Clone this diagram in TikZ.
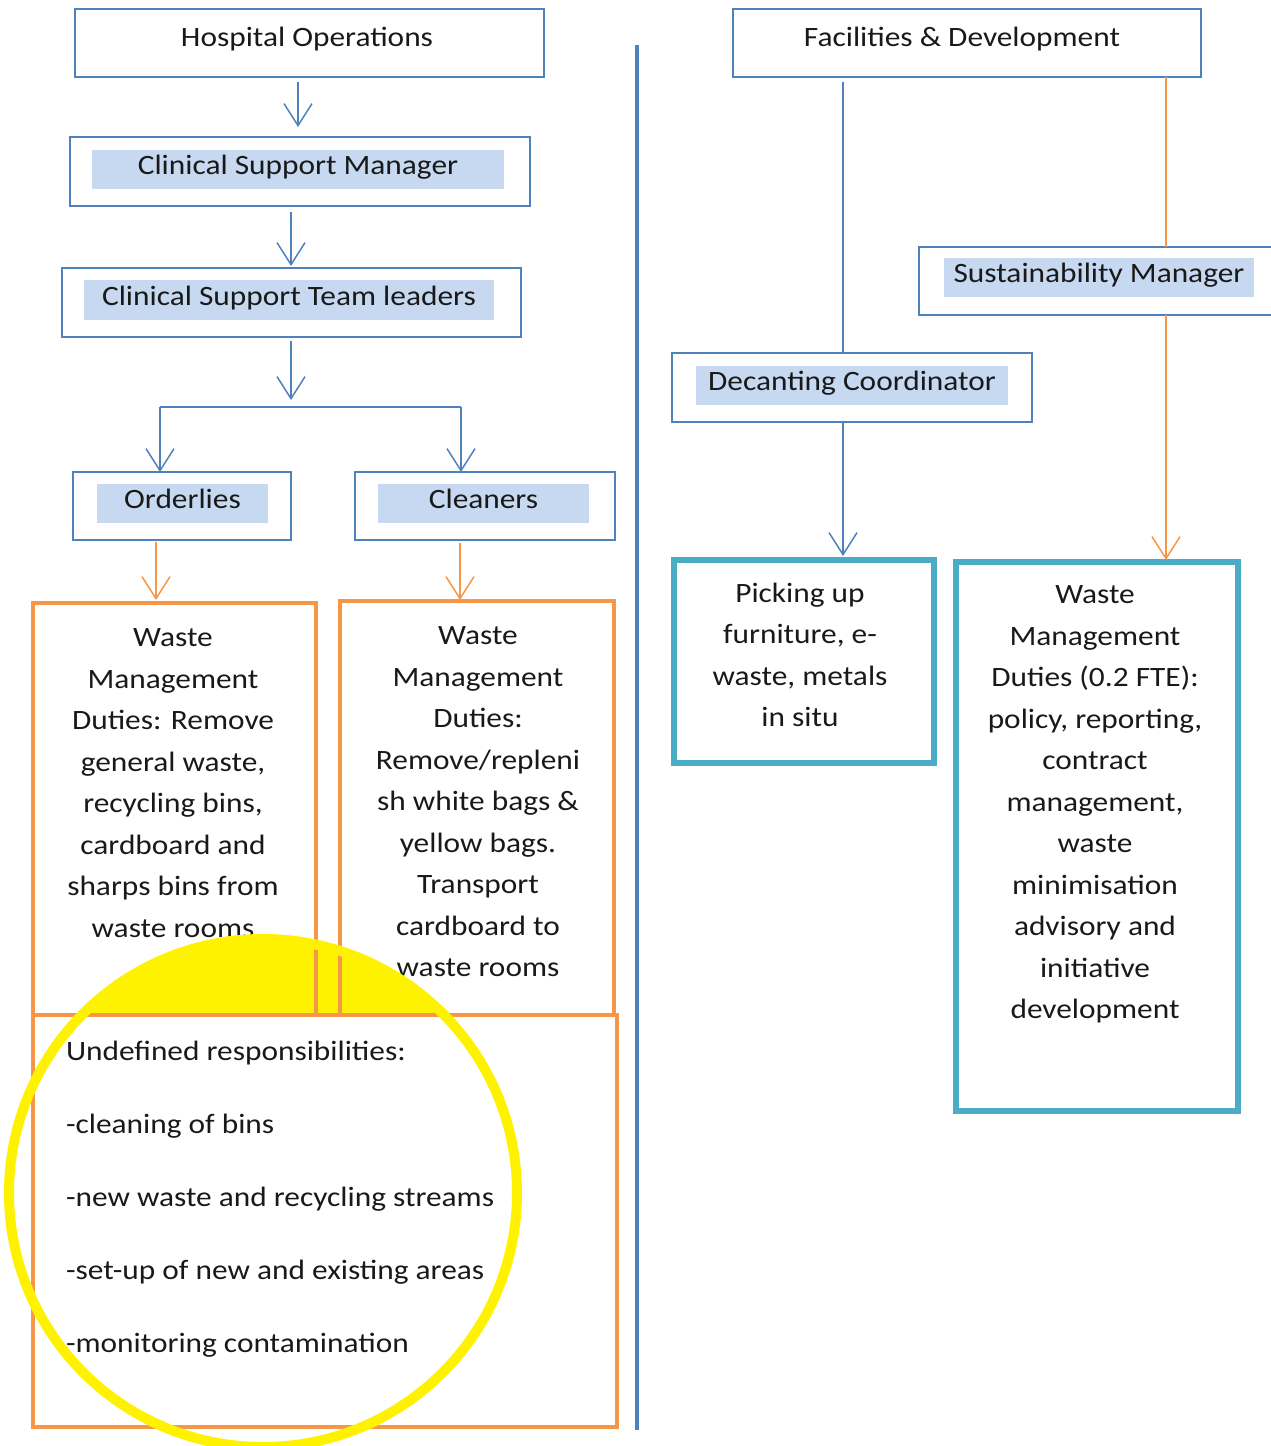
\documentclass[tikz,border=0pt]{standalone}
\usepackage{fontspec}
\setmainfont{Carlito}[FakeStretch=1.12]
\usetikzlibrary{arrows.meta,calc}
\definecolor{ob}{HTML}{4F81BD}
\definecolor{lb}{HTML}{C6D9F1}
\definecolor{oo}{HTML}{F79646}
\definecolor{tl}{HTML}{4BACC6}
\definecolor{yy}{HTML}{FFF200}
\begin{document}
\begin{tikzpicture}[x=1pt,y=-1pt,
  every node/.style={font=\fontsize{28}{41.5}\selectfont, inner sep=0pt, outer sep=0pt, text=black!90},
  bluebox/.style={draw=ob, line width=2pt},
  oneline/.style={text height=19pt, text depth=9pt},
  hilite/.style={fill=lb, oneline},
  orabox/.style={draw=oo, line width=3.5pt},
  tealbox/.style={draw=tl, line width=6pt},
  bline/.style={draw=ob, line width=1.5pt},
  oline/.style={draw=oo, line width=1.5pt},
  barr/.style={bline, -{Straight Barb[length=22pt,width=28pt,line width=1.5pt]}},
  oarr/.style={oline, -{Straight Barb[length=22pt,width=28pt,line width=1.5pt]}},
  divider/.style={draw=ob, line width=4pt}
]
\useasboundingbox (0,0) rectangle (1271,1446);

% yellow cap fill (behind)
\begin{scope}
  \clip (263,1193) ellipse [x radius=254, y radius=254];
  \fill[yy] (0,920) rectangle (640,1013);
\end{scope}

% left column boxes
\node[bluebox, minimum width=469pt, minimum height=68pt] (ho) at (309.5,43) {};
\node[oneline] (hoT) at (307,41) {Hospital Operations};

\node[bluebox, minimum width=460pt, minimum height=69pt] (csm) at (300,171.5) {};
\node[hilite, minimum width=412pt, minimum height=39pt] (csmL) at (298,169.5) {Clinical Support Manager};

\node[bluebox, minimum width=459pt, minimum height=69pt] (cstl) at (291.5,302.5) {};
\node[hilite, minimum width=410pt, minimum height=40pt] (cstlL) at (289,300) {Clinical Support Team leaders};

\node[bluebox, minimum width=218pt, minimum height=68pt] (ord) at (182,506) {};
\node[hilite, minimum width=171pt, minimum height=39pt] (ordL) at (182.5,503.5) {Orderlies};

\node[bluebox, minimum width=260pt, minimum height=68pt] (cln) at (485,506) {};
\node[hilite, minimum width=211pt, minimum height=39pt] (clnL) at (483.5,503.5) {Cleaners};

\node[orabox, minimum width=283pt, minimum height=412pt] (wmL) at (174.5,809) {};
\node[orabox, minimum width=274pt, minimum height=414pt] (wmR) at (477,808) {};
\node[orabox, minimum width=584pt, minimum height=412pt] (und) at (325,1221) {};

\node[anchor=north, align=center] (wmLt) at (173,629) {Waste\\Management\\Duties: Remove\\general waste,\\recycling bins,\\cardboard and\\sharps bins from\\waste rooms};
\node[anchor=north, align=center] (wmRt) at (478,627) {Waste\\Management\\Duties:\\Remove/repleni\\sh white bags \&\\yellow bags.\\Transport\\cardboard to\\waste rooms};
\node[anchor=north west, align=left, font=\fontsize{28}{73}\selectfont] (undt) at (66,1041) {Undefined responsibilities:\\-cleaning of bins\\-new waste and recycling streams\\-set-up of new and existing areas\\-monitoring contamination};

% right column boxes
\node[bluebox, minimum width=468pt, minimum height=68pt] (fd) at (967,43) {};
\node[oneline] (fdT) at (962,41) {Facilities \& Development};

\node[bluebox, minimum width=357pt, minimum height=68pt] (sm) at (1097.5,281) {};
\node[hilite, minimum width=310pt, minimum height=39pt] (smL) at (1099,277.5) {Sustainability Manager};

\node[bluebox, minimum width=360pt, minimum height=69pt] (dc) at (852,387.5) {};
\node[hilite, minimum width=312pt, minimum height=39pt] (dcL) at (852,385.5) {Decanting Coordinator};

\node[tealbox, minimum width=260pt, minimum height=203pt] (pick) at (804,661.5) {};
\node[tealbox, minimum width=282pt, minimum height=549pt] (wmS) at (1097,836.5) {};

\node[anchor=north, align=center] (pickt) at (800,583) {Picking up\\furniture, e-\\waste, metals\\in situ};
\node[anchor=north, align=center] (wmSt) at (1095,586) {Waste\\Management\\Duties (0.2 FTE):\\policy, reporting,\\contract\\management,\\waste\\minimisation\\advisory and\\initiative\\development};

% divider
\draw[divider] (637,45) -- (637,1430);

% left connectors
\draw[barr, shorten <=5pt, shorten >=10pt] (ho.south -| csmL.center) -- (csm.north -| csmL.center);
\draw[barr, shorten <=6pt, shorten >=2pt] (csm.south -| 291,0) -- (cstl.north -| 291,0);
\coordinate (fork) at (291,407);
\coordinate (fL) at (160,407);
\coordinate (fR) at (461,407);
\draw[barr, shorten <=4pt, shorten >=7pt] (cstl.south -| fork) -- (fork);
\draw[bline] (fL) -- (fR);
\draw[barr] (fL) -- (fL |- ord.north);
\draw[barr] (fR) -- (fR |- cln.north);
\coordinate (oL) at (156,540);
\coordinate (oR) at (460,540);
\draw[oarr, shorten <=2pt, shorten >=3pt] (oL |- ord.south) -- (oL |- wmL.north);
\draw[oarr, shorten <=3pt, shorten >=1pt] (oR |- cln.south) -- (oR |- wmR.north);

% right connectors
\coordinate (cB) at (843,0);
\coordinate (cO) at (1166,0);
\draw[bline, shorten <=5pt] (cB |- fd.south) -- (cB |- dc.north);
\draw[barr, shorten >=4pt] (cB |- dc.south) -- (cB |- pick.north);
\draw[oline] (cO |- fd.south) -- (cO |- sm.north);
\draw[oarr, shorten >=2pt] (cO |- sm.south) -- (cO |- wmS.north);

% yellow ring on top
\draw[yy, line width=10pt] (263,1193) ellipse [x radius=254, y radius=254];
\end{tikzpicture}
\end{document}
